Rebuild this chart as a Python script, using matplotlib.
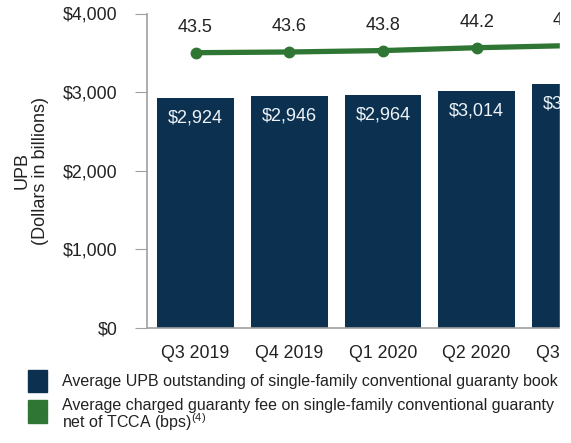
import matplotlib
matplotlib.use('Agg')
import matplotlib.pyplot as plt
from matplotlib.patches import Rectangle

plt.rcParams['font.family'] = ['Liberation Sans', 'DejaVu Sans']
plt.rcParams['mathtext.fontset'] = 'custom'
plt.rcParams['mathtext.rm'] = 'Liberation Sans'

# Quarterly data
quarters = ['Q3 2019', 'Q4 2019', 'Q1 2020', 'Q2 2020', 'Q3 2020']
upb = [2924, 2946, 2964, 3014, 3098]          # dollars in billions
gfee = [43.5, 43.6, 43.8, 44.2, 44.5]         # bps
yticks = [0, 1000, 2000, 3000, 4000]
legend_labels = [
    'Average UPB outstanding of single-family conventional guaranty book',
    'Average charged guaranty fee on single-family conventional guaranty',
    'net of TCCA (bps)$^{\\mathrm{(4)}}$',
]

navy = '#0c3150'
green = '#2f7634'
gray = '#a0a0a0'
txt = '#222222'

fig = plt.figure(figsize=(5.71, 4.43), dpi=100)
W, H = 571, 443
ax = fig.add_axes([147 / W, 1 - 328 / H, 1 - 147 / W, (328 - 13.5) / H])

x = list(range(len(quarters)))
ax.bar(x, upb, width=0.82, color=navy, zorder=2)
for xi, v in zip(x, upb):
    ax.text(xi, v - 250, '${:,}'.format(v), ha='center', va='center',
            color='#eef3f8', fontsize=13)

ax.set_xlim(-0.518, 4.007)
ax.set_ylim(0, 4000)
ax.set_yticks(yticks)
ax.set_yticklabels(['${:,}'.format(t) for t in yticks])
ax.set_xticks(x)
ax.set_xticklabels(quarters)
ax.tick_params(axis='y', length=9, color=gray, pad=12, labelsize=12.8, labelcolor=txt)
ax.tick_params(axis='x', length=0, pad=12, labelsize=12.8, labelcolor=txt)
for s in ['top', 'right']:
    ax.spines[s].set_visible(False)
for s in ['left', 'bottom']:
    ax.spines[s].set_color(gray)
    ax.spines[s].set_linewidth(1.2)
ax.set_ylabel('UPB\n(Dollars in billions)', fontsize=13, color=txt,
              labelpad=10, linespacing=1.1)

# Guaranty fee line on a hidden secondary axis
ax2 = ax.twinx()
ax2.set_ylim(4.73, 49.02)
ax2.axis('off')
ax2.plot(x, gfee, color=green, lw=3.8, marker='o', ms=7.5, zorder=3, clip_on=False)
for xi, v in zip(x, gfee):
    ax2.text(xi, v + 3.6, '{:.1f}'.format(v), ha='center', va='center',
             fontsize=13, color=txt)

# Legend
fig.patches.append(Rectangle((28 / W, 1 - 392 / H), 19 / W, 22 / H,
                             transform=fig.transFigure, color=navy))
fig.patches.append(Rectangle((28 / W, 1 - 423 / H), 19 / W, 23 / H,
                             transform=fig.transFigure, color=green))
for label, base in zip(legend_labels, [386, 410, 428]):
    fig.text(62 / W, 1 - base / H, label, fontsize=11.5, va='baseline', color=txt)

# Right-hand strip is blank
fig.patches.append(Rectangle((560 / W, 0), 1 - 560 / W, 1,
                             transform=fig.transFigure, color='white', zorder=10))

fig.savefig('out.png', dpi=100)
